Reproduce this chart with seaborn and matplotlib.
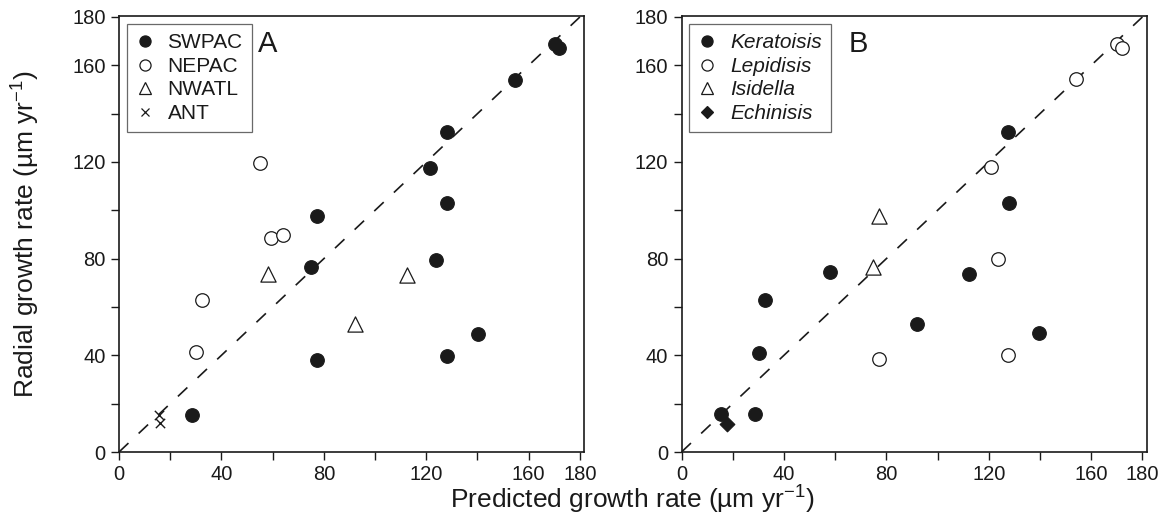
import numpy as np
import pandas as pd
import seaborn as sns
import matplotlib.pyplot as plt
from matplotlib.lines import Line2D

# panel A: grouped by region
a_pred = [170.2, 172.0, 154.6, 128.1, 121.6, 128.1, 77.4, 75.0, 123.9, 140.2, 77.2, 128.1, 28.4,
          55.2, 59.4, 63.9, 32.4, 29.9,
          58.3, 112.4, 92.3,
          15.7, 16.0]
a_radial = [169.0, 167.0, 153.8, 132.4, 117.5, 103.2, 97.6, 76.5, 79.6, 49.0, 37.9, 39.7, 15.5,
            119.7, 88.7, 89.8, 63.0, 41.2,
            73.8, 73.4, 52.8,
            15.2, 12.0]
a_group = ['SWPAC'] * 13 + ['NEPAC'] * 5 + ['NWATL'] * 3 + ['ANT'] * 2

# panel B: grouped by genus
b_pred = [127.5, 127.9, 58.1, 112.1, 32.6, 92.1, 139.6, 30.2, 15.6, 28.7,
          170.1, 171.9, 154.1, 121.0, 123.6, 77.1, 127.6,
          77.1, 74.8,
          17.9]
b_radial = [132.6, 103.2, 74.6, 73.5, 62.9, 52.8, 49.1, 40.8, 15.6, 15.6,
            169.0, 167.0, 154.2, 117.9, 80.0, 38.4, 40.1,
            97.6, 76.5,
            11.5]
b_group = ['Keratoisis'] * 10 + ['Lepidisis'] * 7 + ['Isidella'] * 2 + ['Echinisis']

one_to_one = [0, 180]
ticks = [0, 20, 40, 60, 80, 100, 120, 140, 160, 180]
tick_labels = ['0', '', '40', '', '80', '', '120', '', '160', '180']

ink = '#1a1a1a'
styles_a = {
    'SWPAC': dict(marker='o', fc=ink, s=95, leg_ms=8),
    'NEPAC': dict(marker='o', fc='white', s=95, leg_ms=8),
    'NWATL': dict(marker='^', fc='white', s=120, leg_ms=8.5),
    'ANT': dict(marker='x', fc=ink, s=45, leg_ms=6),
}
styles_b = {
    'Keratoisis': dict(marker='o', fc=ink, s=95, leg_ms=8),
    'Lepidisis': dict(marker='o', fc='white', s=95, leg_ms=8),
    'Isidella': dict(marker='^', fc='white', s=120, leg_ms=8.5),
    'Echinisis': dict(marker='D', fc=ink, s=55, leg_ms=6.5),
}

df_a = pd.DataFrame({'pred': a_pred, 'radial': a_radial, 'group': a_group})
df_b = pd.DataFrame({'pred': b_pred, 'radial': b_radial, 'group': b_group})

sns.set_style('ticks')
plt.rcParams['font.family'] = ['Liberation Sans', 'DejaVu Sans']
plt.rcParams['mathtext.fontset'] = 'custom'
plt.rcParams['mathtext.rm'] = 'Liberation Sans'
plt.rcParams['mathtext.it'] = 'Liberation Sans:italic'

fig = plt.figure(figsize=(11.74, 5.2), dpi=100)
ax_a = fig.add_axes([119 / 1174, 1 - 452 / 520, 465 / 1174, 436 / 520])
ax_b = fig.add_axes([681.5 / 1174, 1 - 452 / 520, 465 / 1174, 436 / 520])


def draw_panel(ax, df, styles, letter, italic, letter_x):
    ax.plot(one_to_one, one_to_one, color=ink, lw=1.2, ls=(0, (7.8, 8.4)), zorder=1)
    handles = []
    for name, st in styles.items():
        sub = df[df['group'] == name]
        if st['marker'] == 'x':
            sns.scatterplot(data=sub, x='pred', y='radial', marker='x', s=st['s'],
                            color=ink, linewidth=1.0, ax=ax, legend=False, zorder=3)
        else:
            sns.scatterplot(data=sub, x='pred', y='radial', marker=st['marker'], s=st['s'],
                            facecolor=st['fc'], edgecolor=ink, linewidth=0.9,
                            ax=ax, legend=False, zorder=3)
        handles.append(Line2D([], [], ls='', marker=st['marker'], markersize=st['leg_ms'],
                              markerfacecolor=st['fc'], markeredgecolor=ink,
                              color=ink, markeredgewidth=0.9, label=name))
    leg = ax.legend(handles=handles, loc='upper left', frameon=True,
                    fancybox=False, borderaxespad=0.38, handlelength=0.8,
                    handletextpad=0.7, labelspacing=0.22, borderpad=0.45,
                    prop={'style': 'italic' if italic else 'normal', 'size': 15})
    leg.get_frame().set_edgecolor('#444444')
    leg.get_frame().set_linewidth(0.9)
    for t in leg.get_texts():
        t.set_color(ink)
    ax.text(letter_x, 0.968, letter, transform=ax.transAxes, fontsize=21,
            ha='center', va='top', color=ink)

    ax.set_xlim(0, 181.6)
    ax.set_ylim(0, 180.4)
    ax.set_xticks(ticks)
    ax.set_xticklabels(tick_labels)
    ax.set_yticks(ticks)
    ax.set_yticklabels(tick_labels)
    ax.tick_params(direction='out', length=5.5, width=1, labelsize=14.5, colors=ink, pad=4)
    for sp in ax.spines.values():
        sp.set_visible(True)
        sp.set_linewidth(1.2)
        sp.set_color(ink)
    ax.set_xlabel('')
    ax.set_ylabel('')


draw_panel(ax_a, df_a, styles_a, 'A', False, 0.32)
draw_panel(ax_b, df_b, styles_b, 'B', True, 0.38)

ax_a.set_ylabel(r'Radial growth rate (µm yr$^{-1}$)', fontsize=19, color=ink, labelpad=22)
fig.text(632 / 1174, 1 - 500 / 520, r'Predicted growth rate (µm yr$^{-1}$)', fontsize=19,
         color=ink, ha='center', va='center')

fig.savefig('out.png', dpi=100)
